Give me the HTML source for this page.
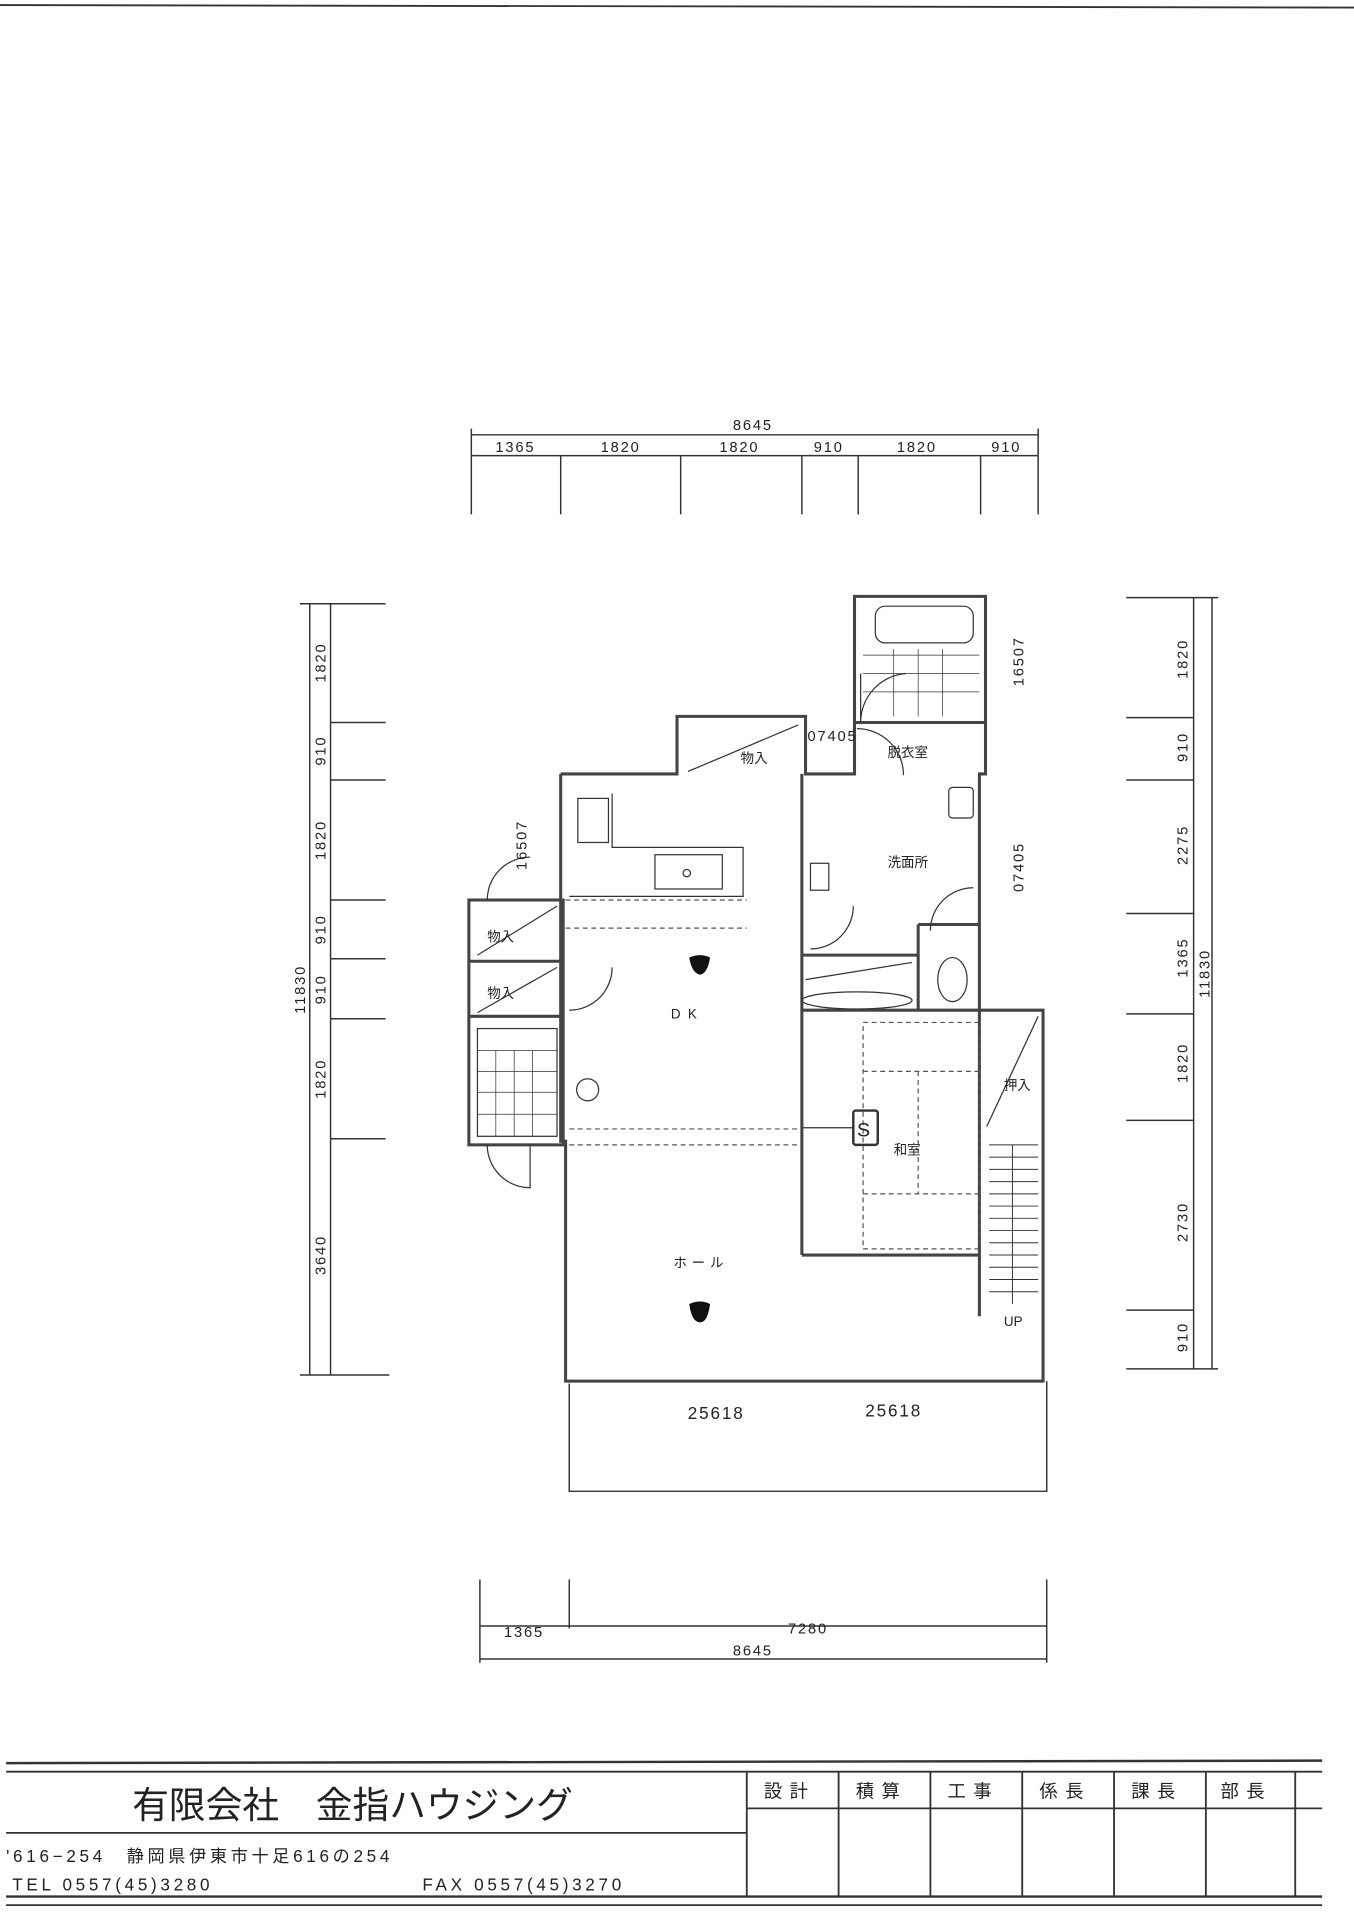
<!DOCTYPE html>
<html><head><meta charset="utf-8"><style>
html,body{margin:0;padding:0;background:#fff;}
svg{display:block;}
text{font-family:"Liberation Sans","Noto Sans CJK JP",sans-serif;fill:#222;}
</style></head><body>
<svg width="1354" height="1920" viewBox="0 0 1106 1568" xmlns="http://www.w3.org/2000/svg">
<g stroke="#333" fill="none" stroke-width="1.2">
<line x1="0" y1="4" x2="1106" y2="6" stroke-width="1.5"/>
<!-- top dims -->
<line x1="385" y1="355" x2="848" y2="355"/>
<line x1="385" y1="372" x2="848" y2="372"/>
<line x1="385" y1="350" x2="385" y2="420"/><line x1="458" y1="372" x2="458" y2="420"/><line x1="556" y1="372" x2="556" y2="420"/>
<line x1="655" y1="372" x2="655" y2="420"/><line x1="701" y1="372" x2="701" y2="420"/><line x1="801" y1="372" x2="801" y2="420"/><line x1="848" y1="350" x2="848" y2="420"/>
<!-- left dims -->
<line x1="253" y1="493" x2="253" y2="1123"/><line x1="270" y1="493" x2="270" y2="1123"/>
<line x1="245" y1="493" x2="315" y2="493"/><line x1="270" y1="590" x2="315" y2="590"/><line x1="270" y1="637" x2="315" y2="637"/>
<line x1="270" y1="735" x2="315" y2="735"/><line x1="270" y1="783" x2="315" y2="783"/><line x1="270" y1="832" x2="315" y2="832"/>
<line x1="270" y1="930" x2="315" y2="930"/><line x1="245" y1="1123" x2="318" y2="1123"/>
<!-- right dims -->
<line x1="990" y1="488" x2="990" y2="1118"/><line x1="975" y1="488" x2="975" y2="1118"/>
<line x1="920" y1="488" x2="995" y2="488"/><line x1="920" y1="586" x2="975" y2="586"/><line x1="920" y1="637" x2="975" y2="637"/>
<line x1="920" y1="746" x2="975" y2="746"/><line x1="920" y1="828" x2="975" y2="828"/><line x1="920" y1="915" x2="975" y2="915"/>
<line x1="920" y1="1070" x2="975" y2="1070"/><line x1="920" y1="1118" x2="995" y2="1118"/>
<!-- bottom dims -->
<line x1="392" y1="1328" x2="855" y2="1328"/><line x1="392" y1="1355" x2="855" y2="1355"/>
<line x1="392" y1="1290" x2="392" y2="1358"/><line x1="465" y1="1290" x2="465" y2="1330"/><line x1="855" y1="1290" x2="855" y2="1358"/>
<!-- balcony -->
<polyline points="465,1130 465,1218 855,1218 855,1128"/>
</g>
<g stroke="#444" fill="none" stroke-width="2.5">
<!-- outer walls -->
<polyline points="458,632 553,632 553,585 658,585 658,632 698,632 698,487 805,487 805,632 800,632 800,825 852,825 852,1128 462,1128 462,932 458,932 458,632"/>
<rect x="383" y="735" width="77" height="200"/>
<line x1="655" y1="632" x2="655" y2="1025"/>
<line x1="655" y1="1025" x2="800" y2="1025"/>
<line x1="800" y1="825" x2="800" y2="1075"/>
<line x1="698" y1="590" x2="805" y2="590"/>
<line x1="655" y1="780" x2="750" y2="780"/>
<line x1="750" y1="755" x2="800" y2="755"/><line x1="750" y1="755" x2="750" y2="825"/>
<line x1="655" y1="825" x2="800" y2="825"/>
<line x1="383" y1="785" x2="460" y2="785"/><line x1="383" y1="830" x2="460" y2="830"/>
</g>
<g stroke="#555" fill="none" stroke-width="1" stroke-dasharray="4,3">
<line x1="465" y1="922" x2="652" y2="922"/><line x1="465" y1="935" x2="652" y2="935"/>
<line x1="462" y1="735" x2="610" y2="735"/><line x1="462" y1="758" x2="610" y2="758"/>
<rect x="705" y="835" width="95" height="185"/>
<line x1="705" y1="875" x2="800" y2="875"/><line x1="705" y1="975" x2="800" y2="975"/>
<line x1="750" y1="875" x2="750" y2="975"/>
</g>
<g stroke="#333" fill="none" stroke-width="1">
<!-- kitchen -->
<polyline points="500,648 500,692 607,692 607,732 465,732"/>
<rect x="472" y="652" width="25" height="36"/>
<rect x="535" y="698" width="55" height="28"/><circle cx="561" cy="713" r="3"/>
<!-- storage diagonals -->
<line x1="562" y1="630" x2="652" y2="592"/><line x1="390" y1="780" x2="455" y2="740"/><line x1="390" y1="827" x2="455" y2="790"/>
<line x1="658" y1="800" x2="745" y2="786"/>
<line x1="806" y1="920" x2="848" y2="830"/>
<!-- entry tiles -->
<rect x="390" y="840" width="65" height="88"/>
<g stroke-width="0.6"><line x1="390" y1="858" x2="455" y2="858"/><line x1="390" y1="875" x2="455" y2="875"/><line x1="390" y1="892" x2="455" y2="892"/><line x1="390" y1="910" x2="455" y2="910"/>
<line x1="405" y1="858" x2="405" y2="928"/><line x1="420" y1="858" x2="420" y2="928"/><line x1="435" y1="858" x2="435" y2="928"/></g>
<!-- bath -->
<rect x="715" y="495" width="80" height="30" rx="8"/>
<g stroke-width="0.6"><line x1="705" y1="535" x2="800" y2="535"/><line x1="705" y1="550" x2="800" y2="550"/><line x1="705" y1="565" x2="800" y2="565"/>
<line x1="730" y1="530" x2="730" y2="585"/><line x1="750" y1="530" x2="750" y2="585"/><line x1="770" y1="530" x2="770" y2="585"/></g>
<!-- doors -->
<path d="M703 590 A40 40 0 0 1 740 550 M703 590 L703 550"/>
<path d="M700 595 A38 38 0 0 1 738 633"/>
<path d="M760 760 A35 35 0 0 1 795 725"/>
<path d="M662 775 A35 35 0 0 0 697 740"/>
<path d="M465 825 A35 35 0 0 0 500 790"/>
<path d="M398 735 A35 35 0 0 1 433 700"/>
<path d="M398 935 A35 35 0 0 0 433 970 L433 935"/>
<!-- sinks, toilet -->
<rect x="775" y="643" width="20" height="25" rx="3"/><rect x="662" y="705" width="15" height="22"/>
<ellipse cx="778" cy="800" rx="12" ry="18"/>
<ellipse cx="700" cy="817" rx="45" ry="7"/>
<!-- stairs -->
<g stroke-width="0.8">
<line x1="808" y1="935" x2="848" y2="935"/><line x1="808" y1="945" x2="848" y2="945"/><line x1="808" y1="955" x2="848" y2="955"/>
<line x1="808" y1="965" x2="848" y2="965"/><line x1="808" y1="975" x2="848" y2="975"/><line x1="808" y1="985" x2="848" y2="985"/>
<line x1="808" y1="995" x2="848" y2="995"/><line x1="808" y1="1005" x2="848" y2="1005"/><line x1="808" y1="1015" x2="848" y2="1015"/>
<line x1="808" y1="1025" x2="848" y2="1025"/><line x1="808" y1="1035" x2="848" y2="1035"/><line x1="808" y1="1045" x2="848" y2="1045"/><line x1="808" y1="1055" x2="848" y2="1055"/>
<line x1="827" y1="935" x2="827" y2="1065"/></g>
<rect x="697" y="907" width="20" height="28" rx="2" stroke-width="2"/><line x1="655" y1="921" x2="697" y2="921"/>
<circle cx="480" cy="890" r="9"/>
</g>
<path d="M563 782 Q572 778 580 782 Q578 795 572 796 Q565 795 563 782Z" fill="#111"/>
<path d="M563 1065 Q572 1061 580 1065 Q578 1080 572 1080 Q565 1080 563 1065Z" fill="#111"/>
<g font-size="12" letter-spacing="1.5">
<text x="615" y="351" text-anchor="middle">8645</text>
<text x="421" y="369" text-anchor="middle">1365</text><text x="507" y="369" text-anchor="middle">1820</text><text x="604" y="369" text-anchor="middle">1820</text>
<text x="677" y="369" text-anchor="middle">910</text><text x="749" y="369" text-anchor="middle">1820</text><text x="822" y="369" text-anchor="middle">910</text>
<text x="428" y="1337" text-anchor="middle">1365</text><text x="660" y="1334" text-anchor="middle">7280</text><text x="615" y="1352" text-anchor="middle">8645</text>
<text x="585" y="1159" text-anchor="middle" font-size="14">25618</text><text x="730" y="1157" text-anchor="middle" font-size="14">25618</text>
<text x="680" y="605" text-anchor="middle">07405</text>
</g>
<g font-size="12" letter-spacing="1.5">
<text transform="translate(266,541) rotate(-90)" text-anchor="middle">1820</text>
<text transform="translate(266,613) rotate(-90)" text-anchor="middle">910</text>
<text transform="translate(266,686) rotate(-90)" text-anchor="middle">1820</text>
<text transform="translate(266,759) rotate(-90)" text-anchor="middle">910</text>
<text transform="translate(266,808) rotate(-90)" text-anchor="middle">910</text>
<text transform="translate(266,881) rotate(-90)" text-anchor="middle">1820</text>
<text transform="translate(266,1025) rotate(-90)" text-anchor="middle">3640</text>
<text transform="translate(249,808) rotate(-90)" text-anchor="middle">11830</text>
<text transform="translate(970,538) rotate(-90)" text-anchor="middle">1820</text>
<text transform="translate(970,610) rotate(-90)" text-anchor="middle">910</text>
<text transform="translate(970,690) rotate(-90)" text-anchor="middle">2275</text>
<text transform="translate(970,782) rotate(-90)" text-anchor="middle">1365</text>
<text transform="translate(970,868) rotate(-90)" text-anchor="middle">1820</text>
<text transform="translate(970,998) rotate(-90)" text-anchor="middle">2730</text>
<text transform="translate(970,1092) rotate(-90)" text-anchor="middle">910</text>
<text transform="translate(988,795) rotate(-90)" text-anchor="middle">11830</text>
<text transform="translate(836,540) rotate(-90)" text-anchor="middle">16507</text>
<text transform="translate(836,708) rotate(-90)" text-anchor="middle">07405</text>
<text transform="translate(430,690) rotate(-90)" text-anchor="middle">16507</text>
</g>
<g font-size="11">
<text x="605" y="623">物入</text><text x="725" y="618">脱衣室</text><text x="725" y="708">洗面所</text>
<text x="398" y="769">物入</text><text x="398" y="815">物入</text><text x="820" y="890">押入</text><text x="730" y="943">和室</text>
<text x="548" y="832" letter-spacing="6">DK</text><text x="550" y="1035" letter-spacing="4">ホール</text>
<text x="820" y="1083">UP</text><text x="700" y="928" font-size="16">S</text>
</g>
<!-- title block -->
<g stroke="#333" fill="none" stroke-width="1.5">
<line x1="5" y1="1440" x2="1080" y2="1438" stroke-width="2"/>
<line x1="5" y1="1447" x2="1080" y2="1447"/>
<line x1="610" y1="1477" x2="1080" y2="1477"/>
<line x1="5" y1="1497" x2="610" y2="1497"/>
<line x1="5" y1="1549" x2="1080" y2="1549" stroke-width="2"/>
<line x1="5" y1="1556" x2="1080" y2="1556"/>
<line x1="610" y1="1447" x2="610" y2="1549"/><line x1="685" y1="1447" x2="685" y2="1549"/><line x1="760" y1="1447" x2="760" y2="1549"/>
<line x1="835" y1="1447" x2="835" y2="1549"/><line x1="910" y1="1447" x2="910" y2="1549"/><line x1="985" y1="1447" x2="985" y2="1549"/><line x1="1058" y1="1447" x2="1058" y2="1549"/>
</g>
<g font-size="15" letter-spacing="6">
<text x="624" y="1468">設計</text><text x="699" y="1468">積算</text><text x="774" y="1468">工事</text>
<text x="849" y="1468">係長</text><text x="924" y="1468">課長</text><text x="997" y="1468">部長</text>
</g>
<text x="108" y="1485" font-size="30">有限会社　金指ハウジング</text>
<text x="5" y="1521" font-size="14" letter-spacing="3">'616−254　静岡県伊東市十足616の254</text>
<text x="10" y="1544" font-size="14" letter-spacing="3">TEL 0557(45)3280</text>
<text x="345" y="1544" font-size="14" letter-spacing="3">FAX 0557(45)3270</text>
</svg>
</body></html>
